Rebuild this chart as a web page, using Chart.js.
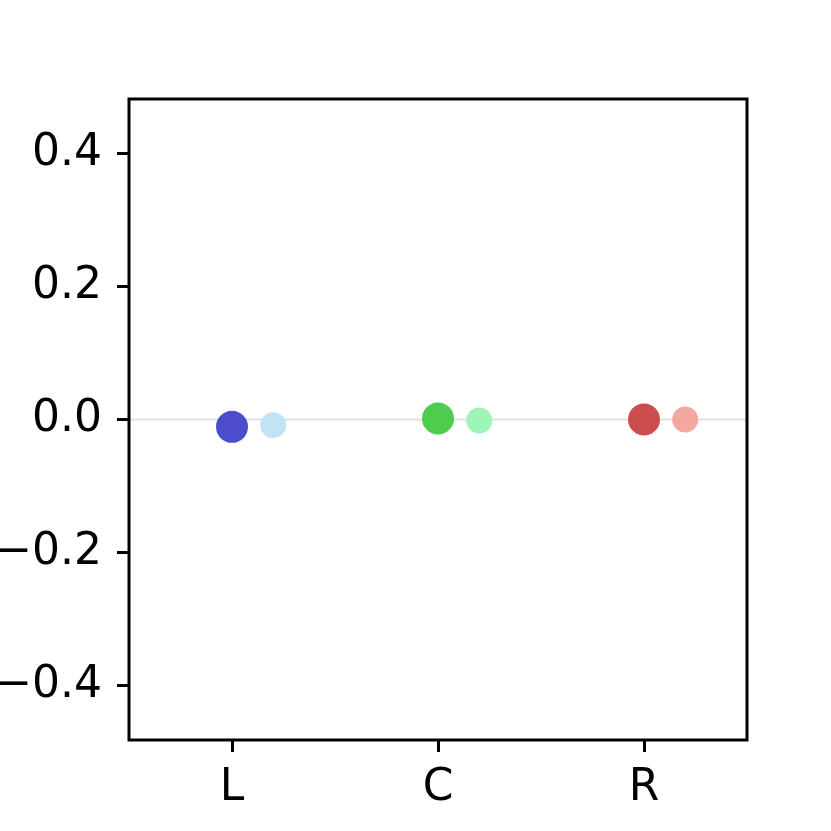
<!DOCTYPE html>
<html>
<head>
<meta charset="utf-8">
<script src="https://cdn.jsdelivr.net/npm/chart.js@4"></script>
<style>
  html, body { margin: 0; padding: 0; background: #fff; }
  #wrap { width: 831px; height: 831px; }
</style>
</head>
<body>
<div id="wrap"><canvas id="chart" width="831" height="831"></canvas></div>
<script>
// data
const categories = ['L', 'C', 'R'];
const mainValues = [-0.011, 0.0015, 0.0];
const pairValues = [-0.0085, -0.0015, 0.0];
const yTicks = [-0.4, -0.2, 0.0, 0.2, 0.4];

const mainColors = ['#4d4dcc', '#4dcc4d', '#cc4d4d'];
const pairColors = ['#c2e2f5', '#9ef5b5', '#f2a8a1'];

const pairOffset = 0.2;

// frame around the plot area
const framePlugin = {
    id: 'frame',
    afterDraw(chart) {
        const a = chart.chartArea;
        const ctx = chart.ctx;
        ctx.save();
        ctx.strokeStyle = '#000';
        ctx.lineWidth = 3;
        ctx.strokeRect(a.left, a.top, a.right - a.left, a.bottom - a.top);
        ctx.restore();
    }
};

const tickFont = { family: 'DejaVu Sans', size: 44 };

new Chart(document.getElementById('chart'), {
    type: 'scatter',
    data: {
        datasets: [
            {
                type: 'line',
                data: [{ x: -0.5, y: 0 }, { x: 2.5, y: 0 }],
                borderColor: '#e6e6e6',
                borderWidth: 2.5,
                pointRadius: 0,
                order: 3
            },
            {
                data: categories.map((c, i) => ({ x: i + pairOffset, y: pairValues[i] })),
                backgroundColor: pairColors,
                borderWidth: 0,
                pointRadius: 13,
                order: 2
            },
            {
                data: categories.map((c, i) => ({ x: i, y: mainValues[i] })),
                backgroundColor: mainColors,
                borderWidth: 0,
                pointRadius: 16,
                order: 1
            }
        ]
    },
    options: {
        responsive: false,
        animation: false,
        layout: { padding: { left: 0, top: 99, right: 84, bottom: 0 } },
        plugins: { legend: { display: false }, tooltip: { enabled: false } },
        scales: {
            x: {
                type: 'linear',
                min: -0.5,
                max: 2.5,
                afterBuildTicks: s => { s.ticks = categories.map((c, i) => ({ value: i })); },
                afterFit: s => { s.height = 91; },
                border: { display: false },
                grid: { drawOnChartArea: false, drawTicks: true, tickLength: 12, tickWidth: 3, tickColor: '#000' },
                ticks: {
                    color: '#000',
                    font: tickFont,
                    padding: 10,
                    maxRotation: 0,
                    callback: v => categories[Math.round(v)]
                }
            },
            y: {
                min: -0.482,
                max: 0.482,
                afterBuildTicks: s => { s.ticks = yTicks.map(v => ({ value: v })); },
                afterFit: s => { s.width = 129; },
                border: { display: false },
                grid: { drawOnChartArea: false, drawTicks: true, tickLength: 12, tickWidth: 3, tickColor: '#000' },
                ticks: {
                    color: '#000',
                    font: tickFont,
                    padding: 15,
                    callback: v => (v < 0 ? '\u2212' : '') + Math.abs(v).toFixed(1)
                }
            }
        }
    },
    plugins: [framePlugin]
});
</script>
</body>
</html>
